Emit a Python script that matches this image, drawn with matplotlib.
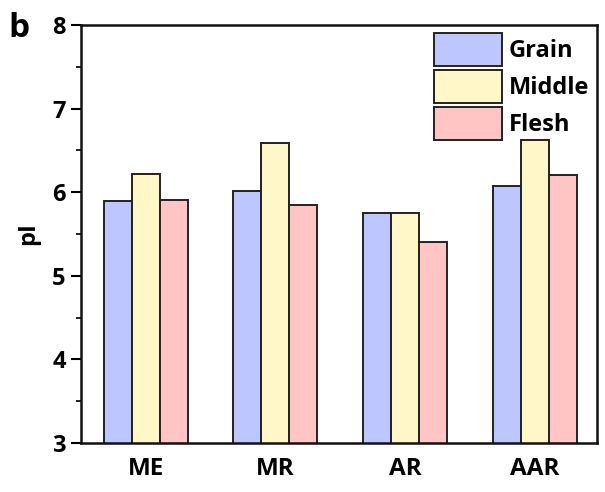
import matplotlib.pyplot as plt
import numpy as np
from matplotlib.ticker import MultipleLocator

# data
categories = ["ME", "MR", "AR", "AAR"]
grain = [5.89, 6.02, 5.75, 6.07]
middle = [6.22, 6.59, 5.75, 6.62]
flesh = [5.91, 5.85, 5.41, 6.20]
series_names = ["Grain", "Middle", "Flesh"]
series_colors = ["#bdc6fe", "#fff7c8", "#ffc4c4"]

plt.rcParams['font.family'] = ['Open Sans', 'DejaVu Sans']
plt.rcParams['font.weight'] = 'bold'

fig = plt.figure(figsize=(6.05, 4.92), dpi=100)
ax = fig.add_axes([81 / 605, 1 - 443 / 492, 516 / 605, 418 / 492])

x = np.arange(len(categories))
w = 0.216
for i, (vals, name, col) in enumerate(zip([grain, middle, flesh], series_names, series_colors)):
    ax.bar(x + (i - 1) * w, vals, width=w, color=col, edgecolor="#222222",
           linewidth=1.4, label=name)

ax.set_ylim(3, 8)
ax.set_xlim(-0.5, 3.48)
ax.set_xticks(x)
ax.set_xticklabels(categories, fontsize=17.5, fontweight='bold')
ax.yaxis.set_major_locator(MultipleLocator(1))
ax.yaxis.set_minor_locator(MultipleLocator(0.5))
ax.tick_params(axis='x', length=0, pad=10)
ax.tick_params(axis='y', which='major', length=7, width=1.5, labelsize=17, pad=4)
ax.tick_params(axis='y', which='minor', length=3.5, width=1.2)
for lab in ax.get_yticklabels():
    lab.set_fontweight('bold')
for s in ax.spines.values():
    s.set_linewidth(1.8)
    s.set_color("#111111")

ax.set_ylabel("pI", fontsize=17, fontweight='bold', labelpad=9)

ax.legend(loc='upper left', bbox_to_anchor=(0.684, 0.9816), frameon=False,
          handlelength=2.88, handleheight=1.77, labelspacing=0.18,
          handletextpad=0.28, borderpad=0, borderaxespad=0,
          prop={'weight': 'bold', 'size': 17})

fig.text(8 / 605, 1 - 37 / 492, "b", fontsize=24, fontweight='bold')

fig.savefig("out.png", dpi=100)
